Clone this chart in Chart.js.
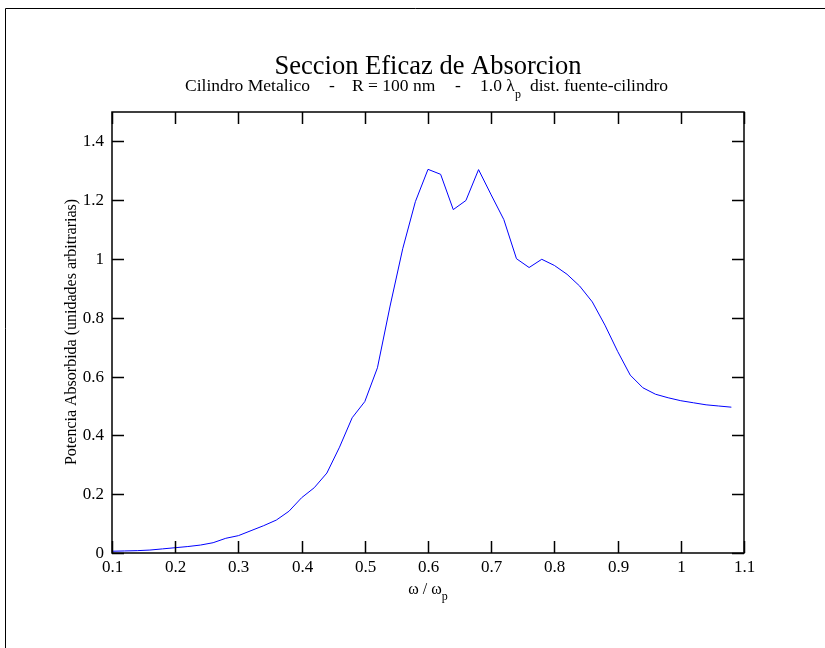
<!DOCTYPE html>
<html>
<head>
<meta charset="utf-8">
<script src="https://cdn.jsdelivr.net/npm/chart.js@4/dist/chart.umd.min.js"></script>
<style>
  body { margin: 0; background: #fff; }
  canvas { display: block; }
</style>
</head>
<body>
<canvas id="chart" width="825" height="648"></canvas>
<script>
const omega = [
  0.10, 0.12, 0.14, 0.16, 0.18, 0.20, 0.22, 0.24, 0.26, 0.28,
  0.30, 0.32, 0.34, 0.36, 0.38, 0.40, 0.42, 0.44, 0.46, 0.48,
  0.50, 0.52, 0.54, 0.56, 0.58, 0.60, 0.62, 0.64, 0.66, 0.68,
  0.70, 0.72, 0.74, 0.76, 0.78, 0.80, 0.82, 0.84, 0.86, 0.88,
  0.90, 0.92, 0.94, 0.96, 0.98, 1.00, 1.02, 1.04, 1.06, 1.08
]
const potencia = [
  0.006, 0.007, 0.008, 0.010, 0.014, 0.018, 0.022, 0.027, 0.035, 0.050,
  0.059, 0.076, 0.093, 0.112, 0.142, 0.188, 0.222, 0.272, 0.360, 0.460,
  0.515, 0.630, 0.840, 1.035, 1.195, 1.305, 1.288, 1.168, 1.199, 1.304,
  1.218, 1.134, 1.001, 0.971, 0.999, 0.978, 0.948, 0.908, 0.854, 0.775,
  0.686, 0.605, 0.562, 0.540, 0.528, 0.518, 0.511, 0.504, 0.500, 0.496
]
const xTicks = [0.1, 0.2, 0.3, 0.4, 0.5, 0.6, 0.7, 0.8, 0.9, 1.0, 1.1]
const yTicks = [0, 0.2, 0.4, 0.6, 0.8, 1.0, 1.2, 1.4]

const serif = "'Liberation Serif', 'DejaVu Serif', serif"
const fmt = v => String(Number(v.toFixed(1)))

// text with a subscript part, centred on x
function subText(ctx, parts, x, y, size) {
  let total = 0
  parts.forEach(p => {
    ctx.font = (p.sub ? size * 0.75 : size) + "px " + serif
    total += ctx.measureText(p.t).width
  })
  let cx = x - total / 2
  parts.forEach(p => {
    const s = p.sub ? size * 0.75 : size
    ctx.font = s + "px " + serif
    ctx.fillText(p.t, cx, p.sub ? y + size * 0.35 : y)
    cx += ctx.measureText(p.t).width
  })
}

const decor = {
  id: "decor",
  afterDraw(chart) {
    const ctx = chart.ctx
    const a = chart.chartArea
    const xs = chart.scales.x
    const ys = chart.scales.y
    ctx.save()
    // outer frame
    ctx.strokeStyle = "#000"
    ctx.lineWidth = 1
    ctx.beginPath()
    ctx.moveTo(5.5, 648)
    ctx.lineTo(5.5, 8.5)
    ctx.lineTo(825, 8.5)
    ctx.stroke()
    // plot box
    ctx.lineWidth = 1.5
    ctx.strokeRect(a.left, a.top, a.right - a.left, a.bottom - a.top)
    // inward ticks and their labels
    ctx.fillStyle = "#000"
    ctx.font = "17px " + serif
    ctx.beginPath()
    ctx.textAlign = "center"
    ctx.textBaseline = "alphabetic"
    xTicks.forEach(v => {
      const px = Math.round(xs.getPixelForValue(v)) + 0.5
      ctx.moveTo(px, a.bottom); ctx.lineTo(px, a.bottom - 12)
      ctx.moveTo(px, a.top); ctx.lineTo(px, a.top + 12)
      ctx.fillText(fmt(v), px, a.bottom + 19)
    })
    ctx.textAlign = "right"
    ctx.textBaseline = "middle"
    yTicks.forEach(v => {
      const py = Math.round(ys.getPixelForValue(v)) + 0.5
      ctx.moveTo(a.left, py); ctx.lineTo(a.left + 12, py)
      ctx.moveTo(a.right, py); ctx.lineTo(a.right - 12, py)
      ctx.fillText(fmt(v), a.left - 8, py)
    })
    ctx.stroke()
    // titles
    ctx.textBaseline = "alphabetic"
    ctx.textAlign = "left"
    subText(ctx, [{ t: "Seccion Eficaz de Absorcion" }], 428, 74, 26.5)
    ctx.font = "17.5px " + serif
    ctx.fillText("Cilindro Metalico", 185, 91)
    ctx.fillText("-", 329, 91)
    ctx.fillText("R = 100 nm", 352, 91)
    ctx.fillText("-", 455, 91)
    ctx.fillText("1.0 \u03bb", 480, 91)
    ctx.font = "12px " + serif
    ctx.fillText("p", 515, 98)
    ctx.font = "17.5px " + serif
    ctx.fillText("dist. fuente-cilindro", 530, 91)
    subText(ctx, [{ t: "\u03c9 / \u03c9" }, { t: "p", sub: true }], 428, 594, 16)
    ctx.translate(76, 332)
    ctx.rotate(-Math.PI / 2)
    ctx.textAlign = "center"
    ctx.font = "16px " + serif
    ctx.fillText("Potencia Absorbida (unidades arbitrarias)", 0, 0)
    ctx.restore()
  }
}

new Chart(document.getElementById("chart"), {
  type: "line",
  data: {
    datasets: [{
      data: omega.map((x, i) => ({ x: x, y: potencia[i] })),
      borderColor: "#0000ff",
      borderWidth: 1,
      pointRadius: 0,
      tension: 0,
      fill: false
    }]
  },
  options: {
    responsive: false,
    animation: false,
    events: [],
    layout: { padding: { left: 112, top: 112, right: 81, bottom: 95 } },
    plugins: { legend: { display: false }, tooltip: { enabled: false } },
    scales: {
      x: {
        type: "linear",
        min: 0.1,
        max: 1.1,
        afterFit: s => { s.height = 0 },
        grid: { display: false },
        border: { display: false },
        ticks: { display: false }
      },
      y: {
        min: 0,
        max: 1.5,
        afterFit: s => { s.width = 0 },
        grid: { display: false },
        border: { display: false },
        ticks: { display: false }
      }
    }
  },
  plugins: [decor]
})
</script>
</body>
</html>
